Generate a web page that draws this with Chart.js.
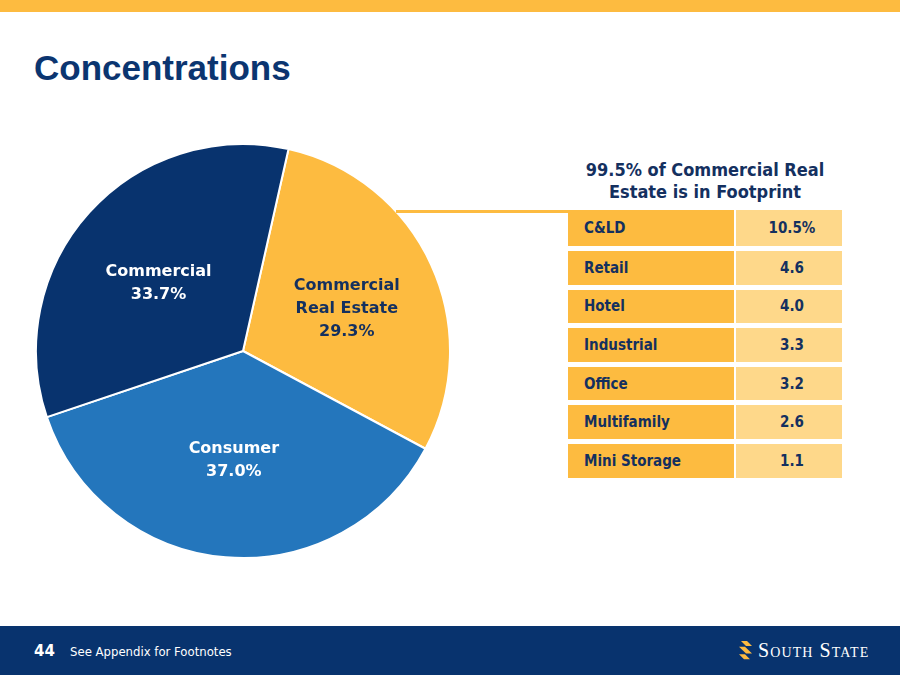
<!DOCTYPE html>
<html>
<head>
<meta charset="utf-8">
<script src="https://cdn.jsdelivr.net/npm/chart.js@4/dist/chart.umd.min.js"></script>
<style>
  html,body{margin:0;padding:0;background:#fff;}
  #page{position:relative;width:900px;height:675px;overflow:hidden;background:#fff;font-family:"DejaVu Sans Condensed","DejaVu Sans",sans-serif;}
  #topbar{position:absolute;left:0;top:0;width:900px;height:12px;background:#FDBB40;}
  #title{position:absolute;left:34px;top:48px;font:bold 35px "Liberation Sans",Arial,sans-serif;color:#0B3570;margin:0;}
  #pieWrap{position:absolute;left:35px;top:143px;width:416px;height:416px;}
  #link{position:absolute;left:396px;top:210px;width:172px;height:3px;background:#FDBB40;}
  #crehead{position:absolute;left:560px;top:159px;width:290px;text-align:center;font-weight:bold;font-size:18px;line-height:22px;color:#14305F;}
  #cre{position:absolute;left:568px;top:210px;border-collapse:separate;border-spacing:0;}
  #cre td{height:33.6px;padding:0;font-weight:bold;font-size:15px;color:#14305F;border-bottom:5px solid #fff;}
  #cre tr:first-child td{height:36px;}
  #cre td.k{width:150px;padding-left:16px;background:#FDBB40;}
  #cre td.v{width:100px;padding-left:6px;text-align:center;background:#FED88A;border-left:2px solid #fff;}
  #footer{position:absolute;left:0;top:626px;width:900px;height:49px;background:#08336E;color:#fff;}
  #pgnum{position:absolute;left:34px;top:16px;font-weight:bold;font-size:15px;font-family:"DejaVu Sans",sans-serif;}
  #foot{position:absolute;left:70px;top:18px;font-size:13px;font-family:"DejaVu Sans Condensed","DejaVu Sans",sans-serif;}
  #logo{position:absolute;left:738px;top:15px;height:24px;}
  #logo span{position:absolute;left:20px;top:-2px;font:20px "Liberation Serif",serif;font-variant:small-caps;letter-spacing:1.1px;white-space:nowrap;}
</style>
</head>
<body>
<div id="page">
  <div id="topbar"></div>
  <h1 id="title">Concentrations</h1>
  <div id="pieWrap"><canvas id="pie"></canvas></div>
  <div id="link"></div>
  <div id="crehead">99.5% of Commercial Real<br>Estate is in Footprint</div>
  <table id="cre"><tbody id="creBody"></tbody></table>
  <div id="footer">
    <div id="pgnum">44</div>
    <div id="foot">See Appendix for Footnotes</div>
    <div id="logo">
      <svg width="16" height="20" viewBox="0 0 16 24" preserveAspectRatio="none">
        <polygon points="3,0 9,0 14,6 8,6" fill="#FDBB40"/>
        <polygon points="1,7 7,7 14,15 8,15" fill="#FDBB40"/>
        <polygon points="1,16 7,16 12,22 6,22" fill="#FDBB40"/>
      </svg>
      <span>South State</span>
    </div>
  </div>
</div>
<script>
const segments = ['Commercial Real Estate', 'Consumer', 'Commercial'];
const segmentLines = [['Commercial', 'Real Estate', '29.3%'], ['Consumer', '37.0%'], ['Commercial', '33.7%']];
const shares = [29.3, 37.0, 33.7];
const segColors = ['#FDBB40', '#2476BC', '#08336E'];
const labelColors = ['#14305F', '#ffffff', '#ffffff'];
const labelNudge = [[4, 3], [0, 0], [-3, 6]];

const creTypes = ['C&LD', 'Retail', 'Hotel', 'Industrial', 'Office', 'Multifamily', 'Mini Storage'];
const creValues = ['10.5%', '4.6', '4.0', '3.3', '3.2', '2.6', '1.1'];

document.getElementById('creBody').innerHTML = creTypes.map((t,i)=>`<tr><td class="k">${t.replace('&','&amp;')}</td><td class="v">${creValues[i]}</td></tr>`).join('');

// slice labels, placed along each slice's mid angle
const sliceLabels = {
  id: 'sliceLabels',
  afterDatasetsDraw(chart){
    const ctx = chart.ctx;
    const meta = chart.getDatasetMeta(0);
    ctx.save();
    ctx.font = 'bold 16px "DejaVu Sans", sans-serif';
    ctx.textAlign = 'center';
    ctx.textBaseline = 'middle';
    meta.data.forEach((arc,i)=>{
      const mid = (arc.startAngle + arc.endAngle)/2;
      const r = arc.outerRadius*0.53;
      const x = arc.x + Math.cos(mid)*r + labelNudge[i][0], y = arc.y + Math.sin(mid)*r + labelNudge[i][1];
      const lines = segmentLines[i], lh = 23;
      ctx.fillStyle = labelColors[i];
      lines.forEach((s,j)=>ctx.fillText(s, x, y + (j-(lines.length-1)/2)*lh));
    });
    ctx.restore();
  }
};

new Chart(document.getElementById('pie'), {
  type: 'pie',
  data: { labels: segments, datasets: [{ data: shares, backgroundColor: segColors, borderColor: '#ffffff', borderWidth: 2 }] },
  options: {
    responsive: true, maintainAspectRatio: false, animation: false,
    rotation: 12.7,
    layout: { padding: 0 },
    plugins: { legend: { display: false }, tooltip: { enabled: false } }
  },
  plugins: [sliceLabels]
});
</script>
</body>
</html>
